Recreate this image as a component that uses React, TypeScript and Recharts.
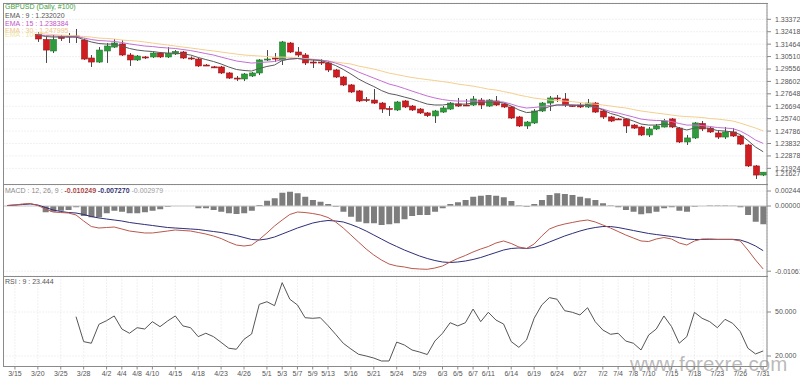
import React from "react";
import { ComposedChart, Bar, Line, XAxis, YAxis, CartesianGrid, ReferenceLine } from "recharts";

const FONT = "'Liberation Sans', Arial, sans-serif";

const dates = [
  "3/14","3/15","3/18","3/19","3/20","3/21","3/22","3/25","3/26","3/27","3/28","3/29",
  "4/1","4/2","4/3","4/4","4/5","4/8","4/9","4/10","4/11","4/12","4/15","4/16","4/17","4/18","4/19",
  "4/22","4/23","4/24","4/25","4/26","4/29","4/30",
  "5/1","5/2","5/3","5/6","5/7","5/8","5/9","5/10","5/13","5/14","5/15","5/16","5/17","5/20","5/21","5/22","5/23","5/24",
  "5/27","5/28","5/29","5/30","5/31",
  "6/3","6/4","6/5","6/6","6/7","6/10","6/11","6/12","6/13","6/14","6/17","6/18","6/19","6/20","6/21",
  "6/24","6/25","6/26","6/27","6/28",
  "7/1","7/2","7/3","7/4","7/5","7/8","7/9","7/10","7/11","7/12","7/15","7/16","7/17","7/18","7/19",
  "7/22","7/23","7/24","7/25","7/26","7/29","7/30","7/31"
];

const tickDates = ["3/15","3/20","3/25","3/28","4/2","4/4","4/8","4/10","4/15","4/18","4/23","4/26","5/1","5/3","5/7","5/9","5/13","5/16","5/21","5/24","5/29","6/3","6/5","6/7","6/11","6/14","6/19","6/24","6/27","7/2","7/4","7/8","7/10","7/15","7/18","7/23","7/26","7/31"];

const priceTicks = [1.21924,1.22878,1.23832,1.24786,1.2574,1.26694,1.27648,1.28602,1.29556,1.3051,1.31464,1.32418,1.33372];
const macdTicks = [-0.01061, 0, 0.00244];
const rsiTicks = [20, 50];

const N4 = [null, null, null, null];

const opens = [...N4,
  1.3220,1.3182,1.3094,1.3205,1.3209,1.3209,1.3178,1.3040,1.3009,1.3094,
  1.3124,1.3148,1.3063,1.3025,1.3048,1.3048,1.3078,1.3048,1.3071,1.3086,
  1.3040,1.3032,1.2986,1.2972,1.2971,1.2925,1.2886,1.2879,1.2902,1.2925,
  1.3028,1.3040,1.3025,1.3155,1.3086,1.3063,1.3009,1.3009,1.3002,1.2948,
  1.2894,1.2833,1.2787,1.2721,1.2717,1.2694,1.2652,1.2641,1.2710,1.2671,
  1.2648,1.2618,1.2595,1.2625,1.2648,1.2687,1.2679,1.2679,1.2717,1.2671,
  1.2710,1.2687,1.2664,1.2587,1.2518,1.2541,1.2633,1.2694,1.2733,1.2725,
  1.2675,1.2679,1.2664,1.2694,1.2633,1.2587,1.2572,1.2572,1.2525,1.2510,
  1.2449,1.2495,1.2510,1.2572,1.2502,1.2395,1.2426,1.2537,1.2502,1.2464,
  1.2433,1.2472,1.2441,1.2372,1.2211,1.2141];
const highs = [...N4,
  1.3240,1.3201,1.3217,1.3217,1.3232,1.3263,1.3190,1.3063,1.3124,1.3155,
  1.3186,1.3178,1.3078,1.3063,1.3055,1.3086,1.3086,1.3124,1.3101,1.3094,
  1.3052,1.3040,1.2994,1.2979,1.2979,1.2932,1.2902,1.2925,1.2932,1.3032,
  1.3101,1.3078,1.3171,1.3163,1.3124,1.3078,1.3032,1.3032,1.3017,1.2956,
  1.2902,1.2840,1.2794,1.2740,1.2802,1.2702,1.2671,1.2710,1.2717,1.2679,
  1.2656,1.2625,1.2641,1.2671,1.2702,1.2733,1.2725,1.2748,1.2733,1.2725,
  1.2748,1.2694,1.2671,1.2595,1.2556,1.2648,1.2702,1.2748,1.2756,1.2771,
  1.2679,1.2694,1.2725,1.2702,1.2648,1.2595,1.2579,1.2579,1.2533,1.2518,
  1.2510,1.2533,1.2572,1.2579,1.2510,1.2449,1.2548,1.2556,1.2510,1.2487,
  1.2510,1.2502,1.2449,1.2379,1.2218,1.2164];
const lows = [...N4,
  1.3163,1.3002,1.3078,1.3171,1.3155,1.3155,1.3025,1.2971,1.3002,1.3002,
  1.3117,1.3055,1.2979,1.3017,1.3032,1.3040,1.3040,1.3040,1.3063,1.3032,
  1.3025,1.2971,1.2979,1.2963,1.2917,1.2879,1.2863,1.2863,1.2894,1.2909,
  1.3017,1.3009,1.2986,1.3078,1.3048,1.2986,1.2963,1.2986,1.2932,1.2886,
  1.2825,1.2771,1.2702,1.2702,1.2687,1.2618,1.2595,1.2633,1.2656,1.2633,
  1.2610,1.2587,1.2541,1.2618,1.2641,1.2664,1.2671,1.2671,1.2648,1.2664,
  1.2671,1.2656,1.2572,1.2510,1.2495,1.2533,1.2625,1.2633,1.2702,1.2664,
  1.2664,1.2656,1.2656,1.2618,1.2572,1.2548,1.2564,1.2464,1.2495,1.2441,
  1.2433,1.2487,1.2506,1.2502,1.2387,1.2372,1.2418,1.2479,1.2464,1.2418,
  1.2418,1.2433,1.2372,1.2203,1.2111,1.2133];
const closes = [...N4,
  1.3186,1.3101,1.3182,1.3190,1.3205,1.3205,1.3032,1.3009,1.3101,1.3132,
  1.3155,1.3063,1.3025,1.3055,1.3044,1.3078,1.3048,1.3075,1.3090,1.3040,
  1.3036,1.2979,1.2984,1.2969,1.2925,1.2886,1.2884,1.2917,1.2925,1.3025,
  1.3032,1.3032,1.3163,1.3086,1.3063,1.3002,1.3007,1.3005,1.2948,1.2894,
  1.2833,1.2779,1.2710,1.2717,1.2694,1.2648,1.2648,1.2702,1.2664,1.2641,
  1.2618,1.2598,1.2633,1.2656,1.2694,1.2671,1.2677,1.2725,1.2679,1.2717,
  1.2679,1.2664,1.2579,1.2518,1.2548,1.2633,1.2694,1.2733,1.2730,1.2679,
  1.2671,1.2664,1.2694,1.2625,1.2587,1.2556,1.2569,1.2518,1.2502,1.2449,
  1.2495,1.2518,1.2556,1.2510,1.2395,1.2426,1.2541,1.2495,1.2472,1.2433,
  1.2472,1.2441,1.2379,1.2211,1.2141,1.2163];

const ema9 = [...N4,
  1.3217,1.3205,1.3201,1.3201,1.3201,1.3201,1.3182,1.3163,1.3151,1.3147,
  1.3147,1.3132,1.3113,1.3101,1.3094,1.3090,1.3082,1.3078,1.3078,1.3071,
  1.3063,1.3044,1.3028,1.3013,1.2994,1.2971,1.2952,1.2944,1.2940,1.2959,
  1.2975,1.2986,1.3021,1.3032,1.3036,1.3028,1.3024,1.3021,1.3005,1.2982,
  1.2952,1.2917,1.2879,1.2848,1.2821,1.2790,1.2767,1.2756,1.2740,1.2725,
  1.2705,1.2686,1.2679,1.2679,1.2686,1.2686,1.2686,1.2694,1.2698,1.2702,
  1.2702,1.2694,1.2671,1.2641,1.2621,1.2625,1.2644,1.2667,1.2679,1.2679,
  1.2679,1.2675,1.2679,1.2663,1.2641,1.2614,1.2598,1.2575,1.2556,1.2533,
  1.2525,1.2525,1.2533,1.2529,1.2502,1.2487,1.2502,1.2506,1.2498,1.2483,
  1.2479,1.2472,1.2452,1.2406,1.2356,1.2320];
const ema15 = [...N4,
  1.3217,1.3213,1.3209,1.3207,1.3205,1.3204,1.3194,1.3182,1.3174,1.3171,
  1.3167,1.3159,1.3148,1.3140,1.3132,1.3128,1.3121,1.3117,1.3113,1.3105,
  1.3097,1.3086,1.3074,1.3063,1.3047,1.3032,1.3017,1.3009,1.3001,1.3005,
  1.3009,1.3013,1.3028,1.3032,1.3036,1.3032,1.3028,1.3024,1.3017,1.3001,
  1.2982,1.2959,1.2932,1.2909,1.2886,1.2863,1.2840,1.2825,1.2806,1.2786,
  1.2767,1.2748,1.2733,1.2721,1.2713,1.2709,1.2709,1.2709,1.2709,1.2709,
  1.2705,1.2702,1.2686,1.2667,1.2656,1.2660,1.2667,1.2675,1.2679,1.2679,
  1.2679,1.2679,1.2675,1.2663,1.2648,1.2629,1.2617,1.2602,1.2587,1.2571,
  1.2564,1.2560,1.2560,1.2552,1.2537,1.2525,1.2525,1.2521,1.2514,1.2506,
  1.2502,1.2498,1.2479,1.2448,1.2410,1.2384];
const ema30 = [...N4,
  1.3232,1.3224,1.3220,1.3216,1.3213,1.3209,1.3205,1.3201,1.3193,1.3190,
  1.3186,1.3178,1.3174,1.3170,1.3163,1.3155,1.3147,1.3140,1.3132,1.3124,
  1.3117,1.3109,1.3101,1.3094,1.3086,1.3078,1.3070,1.3063,1.3059,1.3055,
  1.3051,1.3047,1.3047,1.3044,1.3040,1.3036,1.3032,1.3024,1.3017,1.3009,
  1.3001,1.2994,1.2978,1.2967,1.2955,1.2940,1.2924,1.2913,1.2901,1.2890,
  1.2882,1.2874,1.2867,1.2859,1.2851,1.2840,1.2832,1.2824,1.2813,1.2801,
  1.2794,1.2782,1.2771,1.2755,1.2744,1.2732,1.2725,1.2717,1.2713,1.2709,
  1.2705,1.2698,1.2690,1.2686,1.2679,1.2671,1.2663,1.2656,1.2644,1.2633,
  1.2625,1.2617,1.2610,1.2602,1.2594,1.2590,1.2587,1.2583,1.2575,1.2571,
  1.2564,1.2556,1.2540,1.2521,1.2502,1.2480];

const macd = [
  0.00008,0.00016,0.00033,0.00041,0.00008,-0.00049,-0.00098,-0.00106,-0.00114,-0.00146,
  -0.00244,-0.00334,-0.00358,-0.00350,-0.00342,-0.00374,-0.00407,-0.00423,-0.00439,-0.00439,
  -0.00423,-0.00407,-0.00390,-0.00399,-0.00407,-0.00431,-0.00456,-0.00488,-0.00529,-0.00586,
  -0.00635,-0.00651,-0.00635,-0.00545,-0.00439,-0.00325,-0.00228,-0.00138,-0.00098,-0.00106,
  -0.00122,-0.00146,-0.00187,-0.00260,-0.00358,-0.00472,-0.00586,-0.00700,-0.00797,-0.00879,
  -0.00944,-0.00976,-0.00992,-0.01017,-0.01025,-0.01030,-0.01009,-0.00976,-0.00911,-0.00854,
  -0.00805,-0.00748,-0.00700,-0.00659,-0.00602,-0.00569,-0.00610,-0.00667,-0.00691,-0.00618,
  -0.00488,-0.00374,-0.00325,-0.00293,-0.00268,-0.00244,-0.00228,-0.00260,-0.00309,-0.00358,
  -0.00415,-0.00472,-0.00521,-0.00569,-0.00578,-0.00537,-0.00513,-0.00537,-0.00602,-0.00635,
  -0.00569,-0.00537,-0.00537,-0.00545,-0.00545,-0.00545,-0.00569,-0.00716,-0.00879,-0.010249];
const signal = [
  0.00008,0.00016,0.00024,0.00033,0.00016,-0.00024,-0.00065,-0.00089,-0.00106,-0.00114,
  -0.00138,-0.00171,-0.00195,-0.00212,-0.00228,-0.00244,-0.00268,-0.00285,-0.00301,-0.00317,
  -0.00334,-0.00350,-0.00358,-0.00366,-0.00374,-0.00382,-0.00399,-0.00415,-0.00431,-0.00456,
  -0.00480,-0.00513,-0.00545,-0.00553,-0.00537,-0.00504,-0.00456,-0.00407,-0.00358,-0.00317,
  -0.00277,-0.00252,-0.00236,-0.00244,-0.00260,-0.00301,-0.00350,-0.00407,-0.00472,-0.00537,
  -0.00602,-0.00659,-0.00716,-0.00765,-0.00814,-0.00854,-0.00887,-0.00911,-0.00919,-0.00911,
  -0.00895,-0.00870,-0.00838,-0.00797,-0.00757,-0.00716,-0.00691,-0.00683,-0.00691,-0.00675,
  -0.00635,-0.00586,-0.00537,-0.00488,-0.00447,-0.00407,-0.00374,-0.00350,-0.00334,-0.00334,
  -0.00350,-0.00374,-0.00399,-0.00423,-0.00447,-0.00464,-0.00480,-0.00496,-0.00513,-0.00537,
  -0.00545,-0.00545,-0.00542,-0.00542,-0.00542,-0.00542,-0.00553,-0.00594,-0.00651,-0.00727];
const hist = [
  0,0,0,0,0,-0.00103,-0.00093,-0.00076,-0.00065,-0.00021,
  -0.00163,-0.00184,-0.00184,-0.00119,-0.00076,-0.00093,-0.00119,-0.00119,-0.00103,-0.00076,
  -0.00054,-0.00011,-0.00002,-0.00002,-0.00002,-0.00037,-0.00037,-0.00065,-0.00093,-0.00119,
  -0.00130,-0.00119,-0.00076,0.00016,0.00086,0.00125,0.00216,0.00233,0.00207,0.00151,
  0.00098,0.00070,0.00033,-0.00011,-0.00093,-0.00174,-0.00255,-0.00281,-0.00281,-0.00309,
  -0.00298,-0.00281,-0.00216,-0.00163,-0.00146,-0.00146,-0.00093,-0.00037,0.00033,0.00060,
  0.00098,0.00151,0.00168,0.00179,0.00168,0.00142,0.00081,0.00008,-0.00011,0.00033,
  0.00098,0.00179,0.00207,0.00195,0.00179,0.00151,0.00125,0.00098,0.00044,0.00008,
  -0.00021,-0.00065,-0.00093,-0.00135,-0.00119,-0.00093,-0.00037,-0.00021,-0.00076,-0.00093,
  -0.00011,-0.00002,0.00008,0.00008,0.00008,0.00003,-0.00021,-0.00146,-0.00255,-0.002979];

const rsi = [
  null,null,null,null,null,null,null,null,null,46.8,
  29.8,28.7,41.6,44.1,47.3,38.4,35.5,39.3,38.4,43.4,
  40.0,43.9,47.3,40.5,39.3,33.2,35.5,33.2,29.3,25.3,
  24.6,31.4,35.0,55.2,57.0,54.3,70.0,58.7,54.8,46.1,
  45.7,46.1,40.7,34.8,28.7,24.8,21.2,20.0,18.6,16.6,
  16.6,29.5,27.5,24.1,22.7,21.0,30.2,35.5,42.7,40.5,
  42.7,52.0,43.4,49.8,44.5,41.8,29.8,25.9,30.9,45.7,
  54.8,59.8,58.7,50.9,49.8,48.0,52.9,43.4,37.7,34.8,
  35.5,30.2,28.7,24.1,34.3,38.4,47.3,40.0,28.7,33.2,
  49.8,45.7,43.4,39.3,45.0,42.3,36.6,25.3,21.4,23.444];

const rows = dates.map((d, i) => ({
  d,
  o: opens[i], h: highs[i], l: lows[i], c: closes[i],
  e9: ema9[i], e15: ema15[i], e30: ema30[i],
  macd: macd[i], sig: signal[i], hist: hist[i], rsi: rsi[i],
}));

const Candle = (props: any) => {
  const { x, y, width, height, payload } = props;
  if (!payload || payload.o == null) return null;
  const { o, h, l, c } = payload;
  const top = height >= 0 ? y : y + height;
  const hh = Math.abs(height);
  const k = h - l > 0 ? hh / (h - l) : 0;
  const yo = top + (h - o) * k;
  const yc = top + (h - c) * k;
  const up = c >= o;
  const bt = Math.min(yo, yc);
  const bh = Math.max(Math.abs(yc - yo), 1);
  const cx = Math.round(x + width / 2) + 0.5;
  return (
    <g>
      <line x1={cx} x2={cx} y1={top} y2={top + hh} stroke="#4a4a4a" strokeWidth={1} />
      <rect x={cx - width / 2} y={bt} width={width} height={bh}
        fill={up ? "#2e9c3c" : "#cf1d22"} stroke={up ? "#1f7a2b" : "#9e1418"} strokeWidth={0.6} />
    </g>
  );
};

const tickStyle = { fontSize: 7, fill: "#555", fontFamily: FONT };
const gridColor = "#e2e2e2";
const axisColor = "#8a8a8a";

export default function App() {
  return (
    <div style={{ position: "absolute", left: 0, top: 0, width: 800, height: 378, background: "#fff", overflow: "hidden", fontFamily: FONT }}>
      <svg style={{ position: "absolute", left: 0, top: 0 }} width={800} height={378}>
        <g fontFamily={FONT} fontSize={7}>
          <text x={5} y={9.3} fill="#3f9e3f">GBPUSD (Daily, #100)</text>
          <text x={5} y={17.5} fill="#555">EMA : 9 : 1.232020</text>
          <text x={5} y={25.7} fill="#c055c8">EMA : 15 : 1.238384</text>
          <text x={5} y={33} fill="#f2c47e">EMA : 30 : 1.247995</text>
          <text x={5} y={37.4} fill="#ece6a6">EMA : 100</text>
          <text x={5} y={192.6} fill="#888">
            MACD : 12, 26, 9 : <tspan fill="#a83a3a" fontWeight="bold">-0.010249</tspan>
            <tspan fill="#2a2a70" fontWeight="bold"> -0.007270</tspan>
            <tspan fill="#999"> -0.002979</tspan>
          </text>
          <text x={5} y={283.6} fill="#555">RSI : 9 : 23.444</text>
        </g>
      </svg>

      <div style={{ position: "absolute", left: 0, top: 0 }}>
        <ComposedChart width={800} height={185} data={rows} margin={{ top: 3, right: 0, bottom: 0.5, left: 3.5 }}>
          <CartesianGrid stroke={gridColor} strokeDasharray="1 2" />
          <XAxis dataKey="d" scale="band" ticks={tickDates} interval={0} tick={false} axisLine={false} tickLine={false} height={0} />
          <YAxis orientation="right" type="number" domain={[1.20684, 1.34624]} allowDataOverflow ticks={priceTicks} interval={0}
            width={33} tickSize={4} tickMargin={4} tick={tickStyle} tickFormatter={(v: number) => v.toFixed(5)}
            axisLine={{ stroke: axisColor }} tickLine={{ stroke: axisColor }} />
          <Line dataKey="e30" stroke="#f3cf8e" strokeWidth={1} dot={false} isAnimationActive={false} />
          <Line dataKey="e15" stroke="#c46fd4" strokeWidth={1} dot={false} isAnimationActive={false} />
          <Line dataKey="e9" stroke="#5a5a5a" strokeWidth={1} dot={false} isAnimationActive={false} />
          <Bar dataKey={(r: any) => (r.o == null ? null : [r.l, r.h])} shape={Candle} barSize={6} isAnimationActive={false} />
        </ComposedChart>
      </div>

      <div style={{ position: "absolute", left: 0, top: 185 }}>
        <ComposedChart width={800} height={91} data={rows} margin={{ top: 0, right: 0, bottom: 0, left: 3.5 }}>
          <CartesianGrid stroke={gridColor} strokeDasharray="1 2" />
          <XAxis dataKey="d" scale="band" ticks={tickDates} interval={0} tick={false} axisLine={false} tickLine={false} height={0} />
          <YAxis orientation="right" type="number" domain={[-0.011389, 0.003417]} allowDataOverflow ticks={macdTicks} interval={0}
            width={33} tickSize={4} tickMargin={4} tick={tickStyle} tickFormatter={(v: number) => v.toFixed(6)}
            axisLine={{ stroke: axisColor }} tickLine={{ stroke: axisColor }} />
          <ReferenceLine y={0} stroke="#c8c8c8" />
          <Bar dataKey="hist" fill="#7d7d7d" barSize={6} isAnimationActive={false} />
          <Line dataKey="sig" stroke="#2d2d78" strokeWidth={1} dot={false} isAnimationActive={false} />
          <Line dataKey="macd" stroke="#b8584c" strokeWidth={1} dot={false} isAnimationActive={false} />
        </ComposedChart>
      </div>

      <div style={{ position: "absolute", left: 0, top: 276 }}>
        <ComposedChart width={800} height={102} data={rows} margin={{ top: 0.5, right: 0, bottom: 0, left: 3.5 }}>
          <CartesianGrid stroke={gridColor} strokeDasharray="1 2" />
          <XAxis dataKey="d" scale="band" ticks={tickDates} interval={0} height={11.5} tickSize={3} tickMargin={1.5}
            tick={tickStyle} axisLine={{ stroke: axisColor }} tickLine={{ stroke: axisColor }} />
          <YAxis orientation="right" type="number" domain={[12.84, 74.2]} allowDataOverflow ticks={rsiTicks} interval={0}
            width={33} tickSize={4} tickMargin={4} tick={tickStyle} tickFormatter={(v: number) => v.toFixed(3)}
            axisLine={{ stroke: axisColor }} tickLine={{ stroke: axisColor }} />
          <Line dataKey="rsi" stroke="#555" strokeWidth={1} dot={false} isAnimationActive={false} />
        </ComposedChart>
      </div>

      <svg style={{ position: "absolute", left: 0, top: 0, pointerEvents: "none" }} width={800} height={378}>
        <g stroke={axisColor} strokeWidth={1} shapeRendering="crispEdges">
          <line x1={3.5} y1={3} x2={3.5} y2={366.5} />
          <line x1={3} y1={3.5} x2={767.5} y2={3.5} />
          <line x1={3} y1={184.5} x2={767.5} y2={184.5} />
          <line x1={3} y1={276.5} x2={767.5} y2={276.5} />
        </g>
        <text x={775} y={175.5} fontFamily={FONT} fontSize={7} fill="#555">1.21627</text>
        <text x={630} y={371} fontFamily={FONT} fontSize={20.5} fill="#8c8c8c" fillOpacity={0.6}>www.forexre.com</text>
      </svg>
    </div>
  );
}
